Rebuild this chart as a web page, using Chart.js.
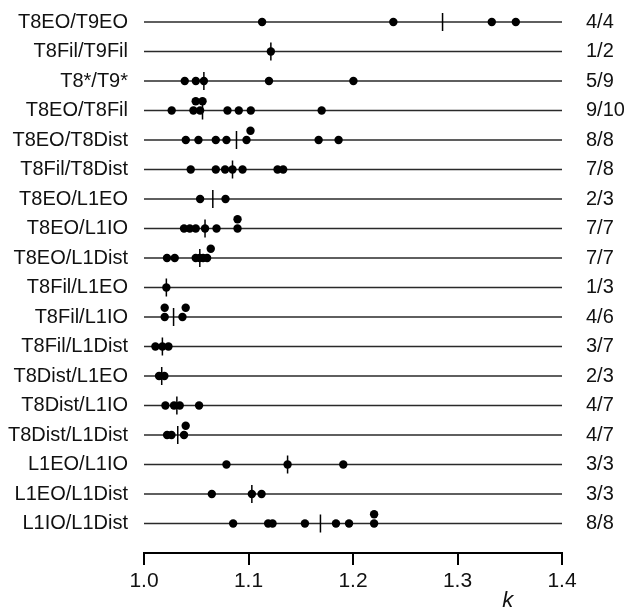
<!DOCTYPE html>
<html>
<head>
<meta charset="utf-8">
<script src="https://cdn.jsdelivr.net/npm/chart.js@4.4.1/dist/chart.umd.min.js"></script>
<style>
    html, body { margin: 0; padding: 0; background: #fff; }
    #wrap { width: 624px; height: 608px; position: relative; }
</style>
</head>
<body>
<div id="wrap"><canvas id="k-chart"></canvas></div>
<script>
// Row names, top to bottom
const pairLabels = [
    'T8EO/T9EO', 'T8Fil/T9Fil', 'T8*/T9*', 'T8EO/T8Fil', 'T8EO/T8Dist', 'T8Fil/T8Dist',
    'T8EO/L1EO', 'T8EO/L1IO', 'T8EO/L1Dist', 'T8Fil/L1EO', 'T8Fil/L1IO', 'T8Fil/L1Dist',
    'T8Dist/L1EO', 'T8Dist/L1IO', 'T8Dist/L1Dist', 'L1EO/L1IO', 'L1EO/L1Dist', 'L1IO/L1Dist'
];

// Counts shown at the right of each row
const pairCounts = [
    '4/4', '1/2', '5/9', '9/10', '8/8', '7/8', '2/3', '7/7', '7/7',
    '1/3', '4/6', '3/7', '2/3', '4/7', '4/7', '3/3', '3/3', '8/8'
];

// k values sitting on the row line
const kOnLine = [
    [1.113, 1.2386, 1.3328, 1.3558],
    [1.1214],
    [1.039, 1.0496, 1.0573, 1.1196, 1.2004],
    [1.0265, 1.0473, 1.0537, 1.0799, 1.0907, 1.1022, 1.170],
    [1.040, 1.0521, 1.0687, 1.0789, 1.0981, 1.1671, 1.1862],
    [1.0447, 1.0687, 1.0776, 1.0847, 1.0943, 1.1278, 1.1332],
    [1.0537, 1.078],
    [1.0383, 1.0438, 1.0495, 1.0584, 1.0694, 1.0895],
    [1.022, 1.0294, 1.0495, 1.0534, 1.0565, 1.0604],
    [1.0214],
    [1.0198, 1.0368],
    [1.0109, 1.0176, 1.0234],
    [1.0144, 1.0195],
    [1.0205, 1.0287, 1.0342, 1.0527],
    [1.0221, 1.0263, 1.0383],
    [1.0789, 1.1374, 1.1907],
    [1.0649, 1.1032, 1.1125],
    [1.0853, 1.1188, 1.123, 1.154, 1.1837, 1.1962, 1.2202]
];

// k values drawn stacked above the line (they overlap a neighbour)
const kStacked = [
    [], [], [], [1.0495, 1.056], [1.1019], [], [], [1.0895], [1.0639],
    [], [1.0198, 1.0399], [], [], [], [1.0399], [], [], [1.2202]
];

const xTicks = [1.0, 1.1, 1.2, 1.3, 1.4];
const axisTitle = 'k';
const axisTitleAt = 1.35;

// styling
const LIFT = 0.315;
const FONT = "'Liberation Sans', Arial, sans-serif";
const INK = '#111';

const nRows = pairLabels.length;
const rowY = i => nRows - i;

function median(values) {
    const s = values.slice().sort((a, b) => a - b);
    const m = Math.floor(s.length / 2);
    return s.length % 2 ? s[m] : (s[m - 1] + s[m]) / 2;
}

const xMin = xTicks[0];
const xMax = xTicks[xTicks.length - 1];

const rowLineSets = pairLabels.map((_, i) => ({
    type: 'line',
    data: [{x: xMin, y: rowY(i)}, {x: xMax, y: rowY(i)}],
    borderColor: '#2a2a2a',
    borderWidth: 1.3,
    pointRadius: 0,
    order: 3
}));

const dots = [];
kOnLine.forEach((vals, i) => vals.forEach(v => dots.push({x: v, y: rowY(i)})));
kStacked.forEach((vals, i) => vals.forEach(v => dots.push({x: v, y: rowY(i) + LIFT})));

const medians = kOnLine.map((vals, i) => ({
    x: median(vals.concat(kStacked[i])),
    y: rowY(i)
}));

const titlePlugin = {
    id: 'kTitle',
    afterDraw(chart) {
        const ctx = chart.ctx;
        const x = chart.scales.x.getPixelForValue(axisTitleAt);
        ctx.save();
        ctx.font = 'italic 22px ' + FONT;
        ctx.fillStyle = INK;
        ctx.textAlign = 'center';
        ctx.textBaseline = 'alphabetic';
        ctx.fillText(axisTitle, x - 2, 607);
        ctx.restore();
    }
};

// keep the row axes from pushing the plot area down
const fitSide = (width) => (scale) => {
    scale.width = width;
    scale.paddingTop = 0;
    scale.paddingBottom = 0;
};

const Y_TOP = nRows + 0.39;

new Chart(document.getElementById('k-chart'), {
    type: 'scatter',
    data: {
        datasets: [
            {
                label: 'k',
                data: dots,
                backgroundColor: '#000',
                borderWidth: 0,
                pointRadius: 4.2,
                pointHoverRadius: 4.2,
                order: 1
            },
            {
                label: 'median',
                data: medians,
                pointStyle: 'line',
                rotation: 90,
                pointRadius: 9,
                pointHoverRadius: 9,
                borderColor: '#000',
                borderWidth: 1.5,
                order: 2
            },
            ...rowLineSets
        ]
    },
    options: {
        responsive: true,
        maintainAspectRatio: false,
        animation: false,
        events: [],
        layout: {
            padding: {top: 2.5, left: 0, right: 0, bottom: 0}
        },
        plugins: {
            legend: {display: false},
            tooltip: {enabled: false}
        },
        scales: {
            x: {
                type: 'linear',
                min: xMin,
                max: xMax,
                afterBuildTicks: (scale) => {
                    scale.ticks = xTicks.map(v => ({value: v}));
                },
                afterFit: (scale) => { scale.height = 55; },
                grid: {
                    drawOnChartArea: false,
                    drawTicks: true,
                    tickLength: 12,
                    color: '#000',
                    lineWidth: 2
                },
                border: {display: true, color: '#000', width: 2},
                ticks: {
                    padding: 4,
                    color: INK,
                    font: {family: FONT, size: 21},
                    callback: (v) => Number(v).toFixed(1)
                }
            },
            y: {
                type: 'linear',
                position: 'left',
                min: 0,
                max: Y_TOP,
                afterBuildTicks: (scale) => {
                    scale.ticks = pairLabels.map((_, i) => ({value: rowY(i)}));
                },
                afterFit: fitSide(144),
                grid: {display: false, drawTicks: false},
                border: {display: false},
                ticks: {
                    padding: 16,
                    color: INK,
                    font: {family: FONT, size: 20},
                    callback: (v) => pairLabels[nRows - v]
                }
            },
            yRight: {
                type: 'linear',
                position: 'right',
                min: 0,
                max: Y_TOP,
                afterBuildTicks: (scale) => {
                    scale.ticks = pairCounts.map((_, i) => ({value: rowY(i)}));
                },
                afterFit: fitSide(62),
                grid: {display: false, drawTicks: false},
                border: {display: false},
                ticks: {
                    padding: 24,
                    color: INK,
                    font: {family: FONT, size: 20},
                    callback: (v) => pairCounts[nRows - v]
                }
            }
        }
    },
    plugins: [titlePlugin]
});
</script>
</body>
</html>
